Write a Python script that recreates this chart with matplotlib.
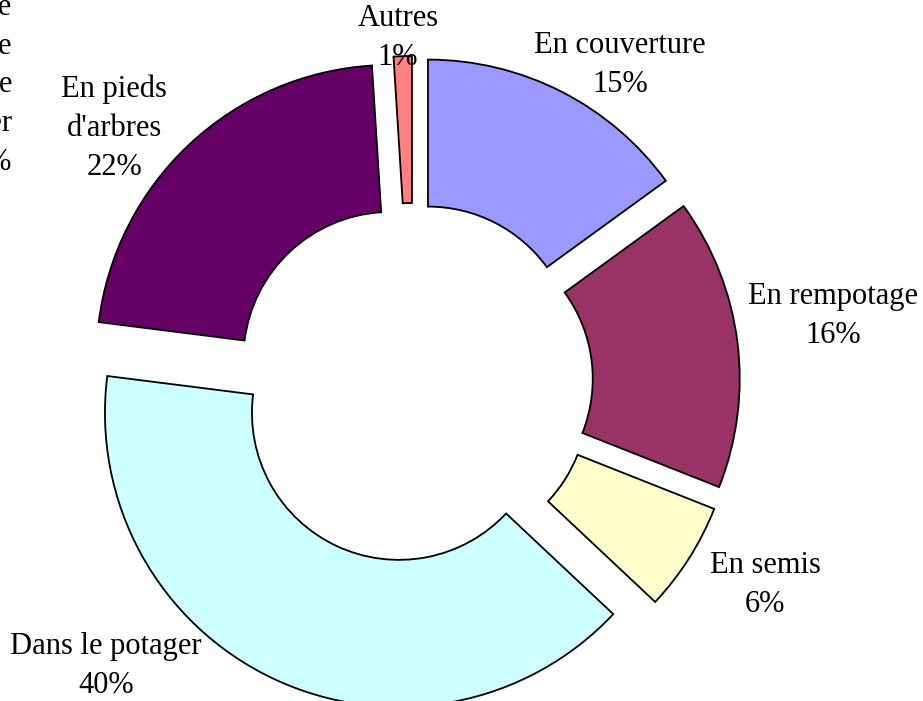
import matplotlib.pyplot as plt

categories = ['En couverture', 'En rempotage', 'En semis', 'Dans le potager',
              "En pieds\nd'arbres", 'Autres']
values = [15, 16, 6, 40, 22, 1]
colors = ['#9999FF', '#993366', '#FFFFCC', '#CCFFFF', '#660066', '#FF8080']

# label centres in pixels (x, y from top)
label_pos = [(620, 65), (833, 316), (765, 585), (106, 666), (114, 128), (398, 38)]

W, H = 923, 701
fig = plt.figure(figsize=(W / 100, H / 100), dpi=100)
ax = fig.add_axes([0, 0, 1, 1])

R = 294
ax.pie(values, colors=colors, startangle=90, counterclock=False,
       center=(413, H - 383), radius=R, explode=[33] * len(values),
       wedgeprops=dict(width=R * 0.5, edgecolor='black', linewidth=1.3))

font = dict(family='Liberation Serif', size=22)
for name, v, (x, y) in zip(categories, values, label_pos):
    ax.text(x, H - y, f'{name}\n{v}%', ha='center', va='center',
            multialignment='center', linespacing=1.45, **font)

# texte coupé au bord gauche (comme dans l'original)
ax.text(12, H - 85, 'Autre\nusage\nen surface\nen hiver\n0%', ha='right', va='center',
        multialignment='right', linespacing=1.45, **font)

ax.set_xlim(0, W)
ax.set_ylim(0, H)
ax.set_aspect('equal')
ax.axis('off')

fig.savefig('out.png', dpi=100)
